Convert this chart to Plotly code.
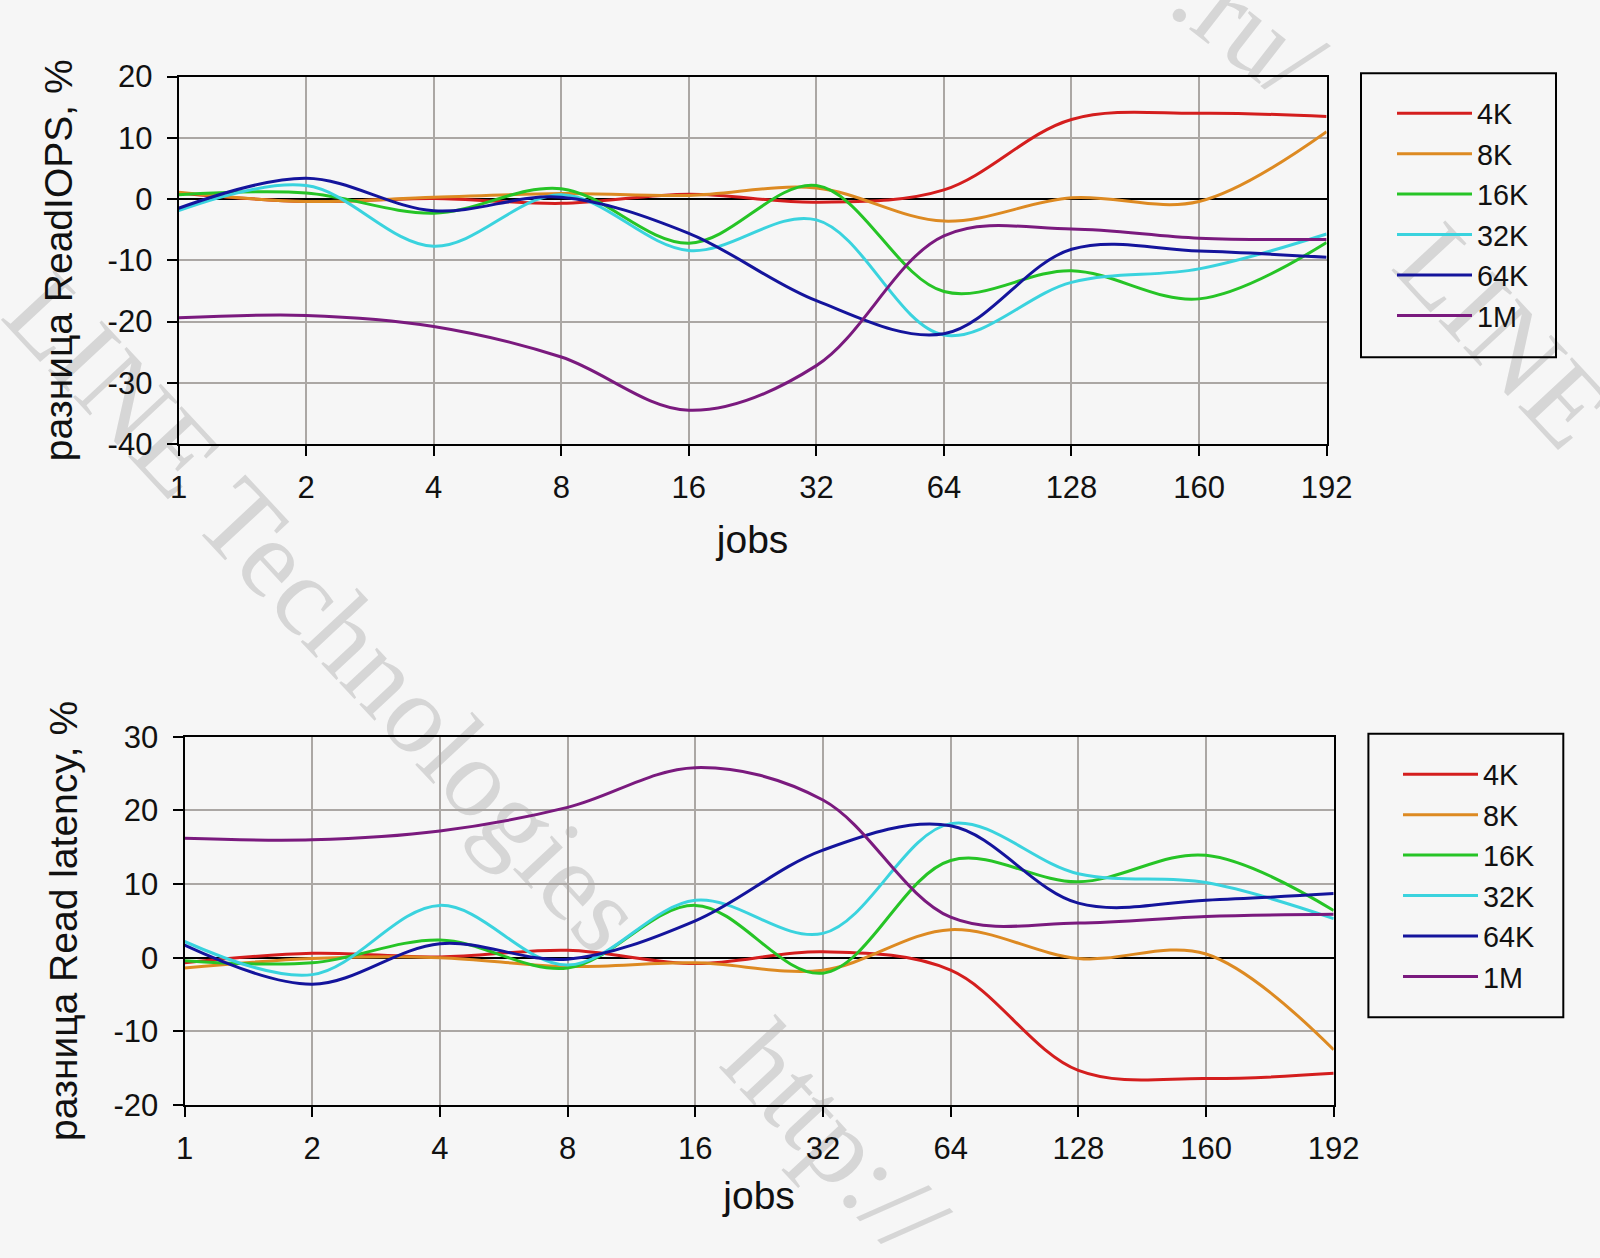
import plotly.graph_objects as go

# ---------------- data ----------------
jobs = ['1', '2', '4', '8', '16', '32', '64', '128', '160', '192']
series_names = ['4K', '8K', '16K', '32K', '64K', '1M']

iops_4k = [1.0, -0.4, 0.1, -0.7, 0.8, -0.5, 1.5, 13.0, 14.0, 13.5]
iops_8k = [1.1, -0.4, 0.3, 0.9, 0.6, 1.8, -3.6, 0.2, -0.4, 11.0]
iops_16k = [0.7, 1.0, -2.3, 1.7, -7.2, 2.2, -15.1, -11.7, -16.3, -7.1]
iops_32k = [-1.9, 2.2, -7.7, 0.7, -8.4, -3.4, -22.2, -13.6, -11.4, -5.7]
iops_64k = [-1.5, 3.4, -1.9, 0.3, -5.6, -16.6, -22.0, -8.2, -8.5, -9.5]
iops_1m = [-19.4, -19.0, -20.8, -25.8, -34.5, -27.2, -6.0, -4.9, -6.4, -6.6]

lat_4k = [-0.7, 0.6, 0.1, 1.0, -0.8, 0.8, -1.7, -15.3, -16.4, -15.7]
lat_8k = [-1.4, -0.1, 0.0, -1.2, -0.7, -1.7, 3.8, -0.1, 0.5, -12.5]
lat_16k = [-0.4, -0.7, 2.4, -1.4, 7.1, -2.1, 13.2, 10.3, 13.9, 6.4]
lat_32k = [2.2, -2.3, 7.1, -1.0, 7.8, 3.3, 18.2, 11.4, 10.2, 5.3]
lat_64k = [1.7, -3.6, 1.9, -0.2, 5.0, 14.6, 17.9, 7.4, 7.8, 8.7]
lat_1m = [16.2, 16.0, 17.2, 20.4, 25.8, 21.4, 5.5, 4.7, 5.6, 5.9]

iops_tickvals = [-40, -30, -20, -10, 0, 10, 20]
iops_ticktext = ['-40', '-30', '-20', '-10', '0', '10', '20']
lat_tickvals = [-20, -10, 0, 10, 20, 30]
lat_ticktext = ['-20', '-10', '0', '10', '20', '30']

iops_series = [iops_4k, iops_8k, iops_16k, iops_32k, iops_64k, iops_1m]
lat_series = [lat_4k, lat_8k, lat_16k, lat_32k, lat_64k, lat_1m]
colors = ['#D41E1E', '#DD8A22', '#26C426', '#3AD3DE', '#14149C', '#7A1A7E']

# ---------------- layout helpers ----------------
W, H = 1600, 1258
FONT = 'Liberation Sans, Arial, sans-serif'
BG = '#F6F6F6'
TXT = '#111111'


def px(x):
    return x / W


def py(y):
    return 1 - y / H


top_box = dict(x0=178.6, x1=1326.6, y0=76.6, y1=444.0)
bot_box = dict(x0=184.5, x1=1333.7, y0=736.7, y1=1105.0)

fig = go.Figure()

for name, vals, c in zip(series_names, iops_series, colors):
    fig.add_trace(go.Scatter(x=jobs, y=vals, name=name, mode='lines',
                             line=dict(color=c, width=3, shape='spline', smoothing=1.0),
                             xaxis='x', yaxis='y', legend='legend'))
for name, vals, c in zip(series_names, lat_series, colors):
    fig.add_trace(go.Scatter(x=jobs, y=vals, name=name, mode='lines',
                             line=dict(color=c, width=3, shape='spline', smoothing=1.0),
                             xaxis='x2', yaxis='y2', legend='legend2'))

axis_common = dict(showline=True, linecolor='black', linewidth=2, mirror=True,
                   showgrid=True, gridcolor='#ABA7A4', gridwidth=2,
                   ticks='outside', ticklen=10, tickwidth=2, tickcolor='black',
                   tickfont=dict(family=FONT, size=31, color=TXT),
                   automargin=False)

xcommon = dict(axis_common, type='category', range=[0, 9], zeroline=False,
               ticklabelstandoff=5)
title_font = dict(family=FONT, size=39, color=TXT)

fig.update_layout(
    width=W, height=H,
    margin=dict(l=0, r=0, t=0, b=0),
    paper_bgcolor=BG, plot_bgcolor='rgba(0,0,0,0)',
    showlegend=True,
    xaxis=dict(xcommon, domain=[px(top_box['x0']), px(top_box['x1'])], anchor='y',
               title=dict(text='jobs', font=title_font, standoff=21)),
    yaxis=dict(axis_common, domain=[py(top_box['y1']), py(top_box['y0'])], anchor='x',
               range=[-40, 20], tickvals=iops_tickvals, ticktext=iops_ticktext,
               zeroline=True, zerolinecolor='black', zerolinewidth=2,
               ticklabelstandoff=8,
               title=dict(text='разница ReadIOPS, %', font=title_font, standoff=23)),
    xaxis2=dict(xcommon, domain=[px(bot_box['x0']), px(bot_box['x1'])], anchor='y2',
                title=dict(text='jobs', font=title_font, standoff=16)),
    yaxis2=dict(axis_common, domain=[py(bot_box['y1']), py(bot_box['y0'])], anchor='x2',
                range=[-20, 30], tickvals=lat_tickvals, ticktext=lat_ticktext,
                zeroline=True, zerolinecolor='black', zerolinewidth=2,
                ticklabelstandoff=8,
                title=dict(text='разница Read latency, %', font=title_font, standoff=24)),
    legend=dict(x=px(1392), y=py(88), xanchor='left', yanchor='top',
                bgcolor='rgba(0,0,0,0)', borderwidth=0,
                font=dict(family=FONT, size=28.8, color=TXT), itemwidth=75),
    legend2=dict(x=px(1398), y=py(749), xanchor='left', yanchor='top',
                 bgcolor='rgba(0,0,0,0)', borderwidth=0,
                 font=dict(family=FONT, size=28.8, color=TXT), itemwidth=75),
)

# legend frames
for (x0, y0, x1, y1) in [(1361, 73.3, 1556, 357.3), (1368.4, 733.7, 1563.3, 1017.3)]:
    fig.add_shape(type='rect', xref='paper', yref='paper',
                  x0=px(x0), x1=px(x1), y0=py(y1), y1=py(y0),
                  line=dict(color='black', width=2), fillcolor='rgba(0,0,0,0)', layer='above')

# faint diagonal watermark (behind the chart)
wm_font = dict(family='Liberation Serif, Times New Roman, serif', size=112, color='#D6D6D6')
watermarks = [
    ('LINE Technologies', (61, 311), (607, 897)),
    ('http://', (720, 995), (970, 1265)),
    ('.ru/', (1166, -52), (1346, 88)),
    ('LINE', (1385, 190), (1640, 465)),
]
for text, (ax0, ay0), (ax1, ay1) in watermarks:
    fig.add_shape(type='line', xref='paper', yref='paper',
                  x0=px(ax0), y0=py(ay0), x1=px(ax1), y1=py(ay1),
                  line=dict(width=0, color='rgba(0,0,0,0)'), layer='below',
                  label=dict(text=text, font=wm_font, textposition='middle', yanchor='middle'))

fig.write_html('out.html',
               config={'displayModeBar': False},
               post_script="document.body.style.margin='0';"
                           "document.body.style.background='%s';" % BG)
